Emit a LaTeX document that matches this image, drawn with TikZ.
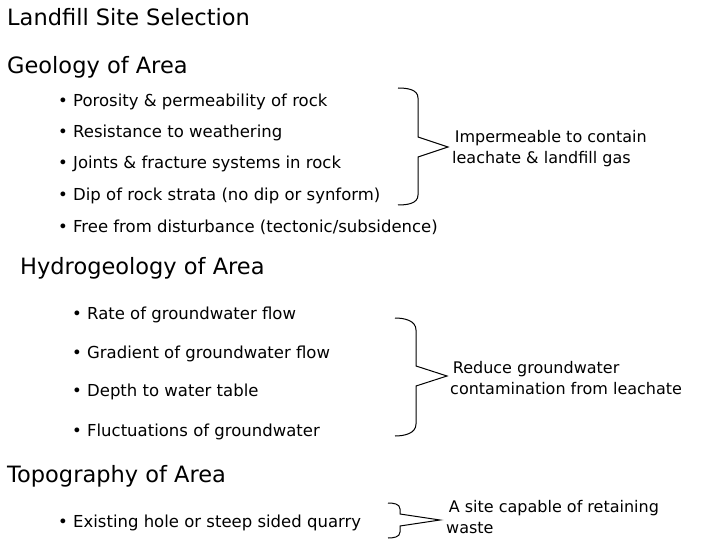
\documentclass[tikz,border=0pt]{standalone}
\usepackage{fontspec}
\setmainfont{DejaVu Sans}
\begin{document}
\begin{tikzpicture}[x=1pt,y=-1pt,
  title/.style={anchor=west,inner sep=0pt,font=\fontsize{22.5}{26}\selectfont},
  item/.style={anchor=west,inner sep=0pt,font=\fontsize{16.5}{19}\selectfont},
  note/.style={anchor=west,inner sep=0pt,align=left,font=\fontsize{16}{21}\selectfont},
  brace/.style={draw,line width=1pt}]
\useasboundingbox (0,0) rectangle (720,540);
\node[title] (t0) at (7,17) {Landfill Site Selection};
\node[title] (t1) at (7,67) {Geology of Area};
\node[item] (g1) at (58,102) {• Porosity \& permeability of rock};
\node[item] (g2) at (58,133) {• Resistance to weathering};
\node[item] (g3) at (58,164) {• Joints \& fracture systems in rock};
\node[item] (g4) at (58,196) {• Dip of rock strata (no dip or synform)};
\node[item] (g5) at (58,227) {• Free from disturbance (tectonic/subsidence)};
\node[note] (n1) at (452,149) {\,Impermeable to contain\\leachate \& landfill gas};
\draw[brace] (398,88) to[out=0,in=90] (418,98) -- (418,137) -- (448,147) -- (418,157) -- (418,195) to[out=-90,in=0] (398,205);
\node[title] (t2) at (20,268) {Hydrogeology of Area};
\node[item] (h1) at (72,315) {• Rate of groundwater flow};
\node[item] (h2) at (72,354) {• Gradient of groundwater flow};
\node[item] (h3) at (72,392) {• Depth to water table};
\node[item] (h4) at (72,432) {• Fluctuations of groundwater};
\node[note] (n2) at (450,378) {\,Reduce groundwater\\contamination from leachate};
\draw[brace] (395,318) to[out=0,in=90] (416,330) -- (416,366) -- (447,376) -- (416,386) -- (416,424) to[out=-90,in=0] (395,436);
\node[title] (t3) at (7,476) {Topography of Area};
\node[item] (p1) at (58,523) {• Existing hole or steep sided quarry};
\node[note] (n3) at (446,517) {\,A site capable of retaining\\waste};
\draw[brace] (388,503) to[out=0,in=90] (400,509) -- (400,514) -- (440,520) -- (400,526) -- (400,532) to[out=-90,in=0] (388,538);
\end{tikzpicture}
\end{document}
